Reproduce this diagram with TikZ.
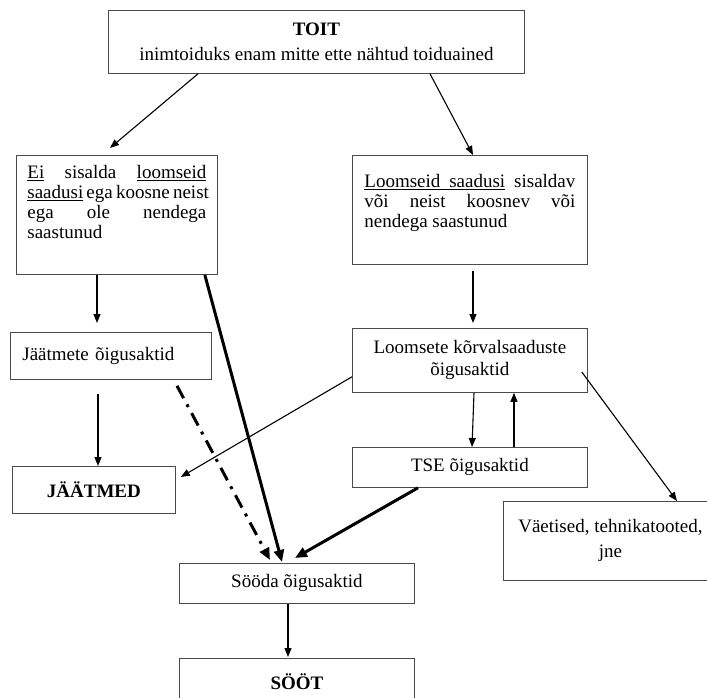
\documentclass[tikz,border=0pt]{standalone}
\usepackage{fontspec}
\setmainfont{Liberation Serif}
\usetikzlibrary{arrows.meta}
\definecolor{frameline}{HTML}{4A4A4A}
% underlined word, and an underlined stretchable space between two words
\newcommand{\ulword}[1]{\setbox0\hbox{#1}\rlap{\rule[-2.6pt]{\wd0}{0.8pt}}\box0\relax}
\newcommand{\ulspace}{\leaders\hrule height -1.8pt depth 2.6pt
  \hskip\fontdimen2\font plus\fontdimen3\font minus\fontdimen4\font\relax}
% one justified line of a block
\newcommand{\fullline}[1]{\makebox[\linewidth][s]{#1}}

\begin{document}
\begin{tikzpicture}[
  x=1pt, y=-1pt,
  every node/.style={font=\fontsize{19}{22}\selectfont},
  box/.style 2 args={draw=frameline, line width=0.8pt, inner sep=0pt,
                     anchor=north west, minimum width=#1, minimum height=#2},
  link/.style={draw=black, line width=1.1pt,
               -{Triangle[length=9pt,width=7pt]}},
  heavylink/.style={draw=black, line width=3pt,
                    -{Triangle[length=12pt,width=10pt]}},
  dashlink/.style={heavylink, dash pattern=on 14pt off 7pt on 3pt off 7pt},
]
  \clip (0,0) rectangle (707,698);

  % Top of the scheme
  \node[box={416pt}{63pt}, align=center] (toit) at (108,10)
    {\textbf{TOIT}\\[3pt]inimtoiduks enam mitte ette nähtud toiduained};

  % The two branches
  \node[box={201pt}{119pt}] (eibox) at (16,155)
    {\begin{minipage}[t][119pt][t]{179pt}\fontsize{19}{20}\selectfont
     \rule{0pt}{23pt}\fullline{\ulword{Ei} sisalda \ulword{loomseid}}\\
     \fullline{\ulword{saadusi} ega koosne neist}\\
     \fullline{ega ole nendega}\\
     saastunud\end{minipage}};
  \node[box={235pt}{109pt}] (loombox) at (352,155)
    {\begin{minipage}[t][109pt][t]{211pt}\fontsize{19}{20}\selectfont
     \rule{0pt}{32pt}\fullline{\ulword{Loomseid}\ulspace\ulword{saadusi} sisaldav}\\
     \fullline{või neist koosnev või}\\
     nendega saastunud\end{minipage}};

  % Legal acts
  \node[box={201pt}{47pt}, text width=177pt] (jaatak) at (10,332)
    {Jäätmete õigusaktid};
  \node[box={235pt}{64pt}, align=center] (kvs) at (352,328)
    {Loomsete kõrvalsaaduste\\õigusaktid};
  \node[box={235pt}{40pt}] (tse) at (352,447) {TSE õigusaktid};
  \node[box={235pt}{40pt}] (sooda) at (179,563) {Sööda õigusaktid};

  % End products
  \node[box={163pt}{47pt}] (jaatmed) at (12,466) {\textbf{JÄÄTMED}};
  \node[box={214pt}{79pt}, align=center] (vaet) at (503,501)
    {Väetised, tehnikatooted,\\[3pt]jne};
  \node[box={235pt}{46pt}] (soot) at (179,658) {\textbf{SÖÖT}};

  % Thin arrows
  \draw[link] ([xshift=90pt]toit.south west) -- ([xshift=94pt,yshift=7pt]eibox.north west);
  \draw[link] ([xshift=322pt]toit.south west) -- ([xshift=121pt]loombox.north west);
  \draw[link] ([xshift=81pt]eibox.south west) -- ([xshift=87pt,yshift=9pt]jaatak.north west);
  \draw[link] ([xshift=121pt,yshift=-6pt]loombox.south west) -- ([xshift=121pt,yshift=5pt]kvs.north west);
  \draw[link] ([xshift=88pt,yshift=-14pt]jaatak.south west) -- ([xshift=86pt]jaatmed.north west);
  \draw[link] ([yshift=16pt]kvs.south west) -- ([xshift=5pt,yshift=-11pt]jaatmed.north east);
  \draw[link] ([xshift=122pt]kvs.south west) -- ([xshift=120pt]tse.north west);
  \draw[link] ([xshift=162pt]tse.north west) -- ([xshift=162pt]kvs.south west);
  \draw[link] ([xshift=-6pt,yshift=-44pt]kvs.north east) -- ([xshift=174pt]vaet.north west);
  \draw[link] ([xshift=109pt]sooda.south west) -- ([xshift=109pt,yshift=1pt]soot.north west);

  % Heavy arrows into the feed acts
  \draw[heavylink] ([xshift=-13pt]eibox.south east) -- ([xshift=103pt,yshift=1pt]sooda.north west);
  \draw[heavylink] ([xshift=66pt]tse.south west) -- ([xshift=116pt,yshift=5pt]sooda.north west);
  \draw[dashlink] ([xshift=167pt,yshift=-6pt]jaatak.south west) -- ([xshift=91pt,yshift=3pt]sooda.north west);
\end{tikzpicture}
\end{document}
